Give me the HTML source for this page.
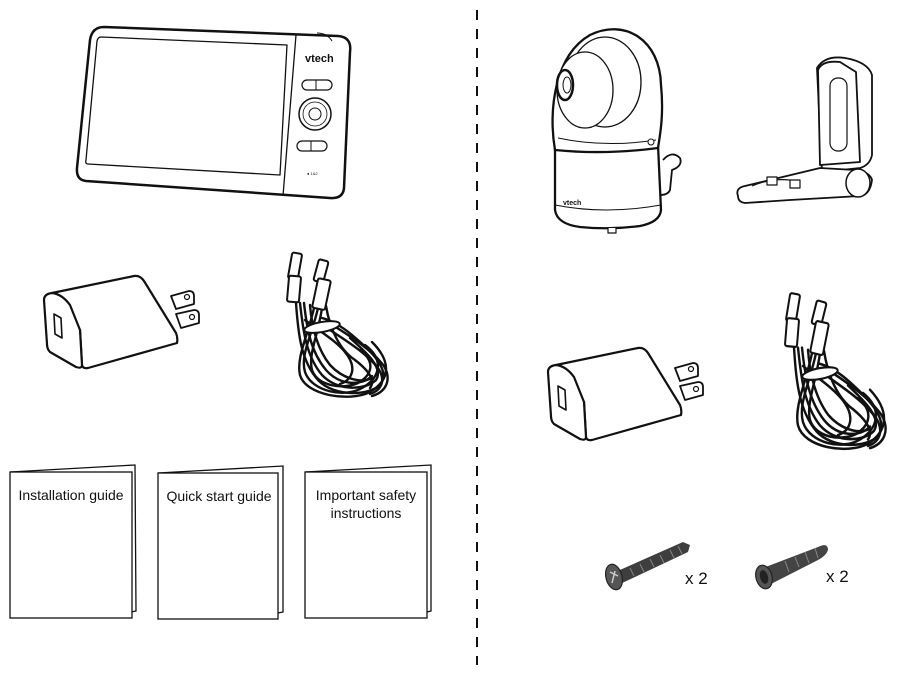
<!DOCTYPE html>
<html><head><meta charset="utf-8"><style>
html,body{margin:0;padding:0;background:#fff;}
svg{display:block}
text{font-family:"Liberation Sans",sans-serif;fill:#111}
</style></head><body>
<svg width="904" height="673" viewBox="0 0 904 673" xmlns="http://www.w3.org/2000/svg">
<defs>
<g id="adapter" fill="#fff" stroke="#111" stroke-width="2.2" stroke-linejoin="round">
  <path d="M171,296 l18,-5 q5,0 5,5 l0,8 l-18,5z" stroke-width="1.8"/>
  <path d="M176,314 l18,-4 q5,0 5,5 l0,8 l-18,5z" stroke-width="1.8"/>
  <path d="M52,293 L134,276 Q140,275 144,281 L176,333 Q178,338 177,343 L88,368 Q83,369 82,365 L80,330 Z"/>
  <path d="M44,300 Q44,294 52,293 Q62,294 70,305 L80,330 L82,365 Q82,369 76,367 L50,352 Q47,349 47,344 Z"/>
  <path d="M54,314 l7,4 l1,20 l-7,-4z" stroke-width="1.6"/>
  <circle cx="187" cy="297" r="2.5" stroke-width="1.2"/>
  <circle cx="192" cy="317" r="2.5" stroke-width="1.2"/>
</g>
<g id="cable" fill="none" stroke="#111" stroke-width="2.4" stroke-linecap="round">
  <path d="M296,303 C298,330 300,360 318,380 C335,398 370,395 380,385 C392,370 370,350 352,335 C340,325 330,320 322,318"/>
  <path d="M300,303 C303,330 306,356 322,375 C338,392 366,390 376,380 C384,368 366,352 350,338"/>
  <path d="M304,303 C307,330 311,352 326,370 C340,386 362,386 372,376"/>
  <path d="M318,308 C312,335 300,355 305,372 C312,392 345,398 362,388 C380,378 385,360 365,345"/>
  <path d="M322,308 C318,335 308,355 312,370 C318,386 342,390 358,383 C372,375 376,362 360,350"/>
  <path d="M314,308 C308,335 296,358 300,375 C306,396 350,402 370,392 C390,380 392,362 372,342"/>
  <path d="M326,306 C330,330 340,350 355,360 C368,370 376,380 370,388"/>
  <path d="M310,305 C312,330 318,350 330,365 C342,378 360,384 372,378"/>
  <path d="M305,320 C318,330 335,340 345,352 C358,368 352,380 340,384"/>
  <path d="M330,330 C345,340 365,352 378,368 C386,380 382,390 370,394"/>
  <path d="M334,326 C350,336 372,350 384,366 C392,380 386,392 372,396"/>
  <g fill="#fff" stroke-width="2">
  <rect x="290" y="253" width="10" height="26" rx="2" transform="rotate(10 295 266)"/>
  <rect x="288" y="276" width="12" height="26" rx="2" transform="rotate(5 294 289)"/>
  <rect x="316" y="260" width="10" height="22" rx="2" transform="rotate(15 321 271)"/>
  <rect x="315" y="279" width="13" height="30" rx="2" transform="rotate(12 321 294)"/>
  <ellipse cx="322" cy="327" rx="18" ry="5" transform="rotate(-10 322 327)"/>
  </g>
</g>
</defs>

<line x1="477" y1="10" x2="477" y2="665" stroke="#111" stroke-width="2" stroke-dasharray="10,9"/>

<!-- Monitor -->
<g fill="#fff" stroke="#111" stroke-linejoin="round">
  <path d="M104,27 L338,36 Q352,37 350,52 L344,188 Q343,199 330,198 L86,181 Q76,180 77,168 L90,40 Q92,27 104,27 Z" stroke-width="2.5"/>
  <path d="M101,37 L287,45 L280,175 L88,164 Q85,164 86,160 L97,41 Q98,37 101,37 Z" stroke-width="1.3"/>
  <line x1="296" y1="35" x2="283" y2="196" stroke-width="1.3"/>
  <path d="M317,33 q10,0 15,8" fill="none" stroke-width="1"/>
  <rect x="302" y="80" width="30" height="10" rx="5" stroke-width="1.2"/>
  <line x1="316" y1="80" x2="316" y2="90" stroke-width="1"/>
  <circle cx="315" cy="114" r="16" stroke-width="1.5"/>
  <circle cx="315" cy="114" r="12" stroke-width="0.8"/>
  <circle cx="315" cy="114" r="6" stroke-width="1"/>
  <rect x="297" y="141" width="30" height="10" rx="5" stroke-width="1.2"/>
  <line x1="311" y1="141" x2="311" y2="151" stroke-width="1"/>
</g>
<text x="305" y="62" font-size="11" font-weight="bold">vtech</text>
<text x="307" y="175" font-size="4">● 1&amp;2</text>

<use href="#adapter"/>
<use href="#cable"/>
<use href="#adapter" transform="translate(504,72)"/>
<use href="#cable" transform="translate(498,42) scale(1,1.08) translate(0,-20)"/>

<!-- Booklets -->
<g fill="#fff" stroke="#111" stroke-width="1.3">
  <path d="M10,472 L135,465 L136,611 L131,612"/>
  <rect x="10" y="472" width="122" height="146"/>
  <path d="M158,473 L283,466 L283,612 L278,613"/>
  <rect x="158" y="473" width="120" height="146"/>
  <path d="M305,472 L431,465 L431,611 L427,612"/>
  <rect x="305" y="472" width="122" height="146"/>
</g>
<g font-size="14" text-anchor="middle">
  <text x="71" y="500">Installation guide</text>
  <text x="219" y="501">Quick start  guide</text>
  <text x="366" y="500">Important safety</text>
  <text x="366" y="518">instructions</text>
</g>

<!-- Camera -->
<g fill="#fff" stroke="#111" stroke-linejoin="round">
  <path d="M555,145 L555,210 Q557,224 580,227 Q610,230 640,226 Q660,222 661,210 L658,145 Z" stroke-width="2.3"/>
  <path d="M555,205 Q605,215 661,205" fill="none" stroke-width="1"/>
  <path d="M555,150 C548,110 555,55 590,35 C625,18 660,40 661,85 C664,115 660,135 658,148 Q605,155 555,150 Z" stroke-width="2.3"/>
  <path d="M558,138 Q605,148 656,140" fill="none" stroke-width="1"/>
  <ellipse cx="605" cy="82" rx="36" ry="45" stroke-width="1.3"/>
  <ellipse cx="585" cy="90" rx="28" ry="38" stroke-width="1.3"/>
  <ellipse cx="565" cy="85" rx="8" ry="15" stroke-width="2.5"/>
  <ellipse cx="567" cy="85" rx="4" ry="8" stroke-width="1"/>
  <circle cx="651" cy="142" r="3" stroke-width="1"/>
  <path d="M663,160 Q672,150 680,158 Q683,166 672,170 L670,190 Q668,195 660,195" fill="none" stroke-width="1.8"/>
  <path d="M608,228 l0,5 l8,0 l0,-5" stroke-width="1.2"/>
</g>
<text x="563" y="205" font-size="7" font-weight="bold">vtech</text>

<!-- Bracket -->
<g fill="#fff" stroke="#111" stroke-linejoin="round">
  <path d="M817,68 Q825,55 845,58 Q868,62 872,75 L872,155 Q870,165 860,168 L822,172 Z" stroke-width="1.8"/>
  <path d="M818,70 Q822,60 840,62 L856,72 L860,162 L820,165 Z" stroke-width="1.8"/>
  <rect x="830" y="78" width="17" height="73" rx="8" stroke-width="1.2"/>
  <path d="M738,196 Q735,188 745,186 L820,168 L855,170 Q870,172 872,180 Q870,195 860,196 L790,200 L745,203 Q738,202 738,196 Z" stroke-width="1.8"/>
  <ellipse cx="858" cy="183" rx="12" ry="14" stroke-width="1.5"/>
  <path d="M752,186 Q770,178 790,180" fill="none" stroke-width="1.2"/>
  <rect x="767" y="177" width="10" height="8" stroke-width="1.2"/>
  <rect x="790" y="180" width="10" height="8" stroke-width="1.2"/>
</g>

<!-- Screws -->
<g>
  <path d="M613,573 L683,542 L690,545 L688,552 L620,584 Z" fill="#3e3e3e"/>
  <g stroke="#888" stroke-width="1">
    <line x1="630" y1="568" x2="634" y2="576"/><line x1="640" y1="564" x2="644" y2="572"/>
    <line x1="650" y1="559" x2="654" y2="567"/><line x1="660" y1="555" x2="664" y2="563"/>
    <line x1="670" y1="550" x2="674" y2="558"/><line x1="678" y1="546" x2="682" y2="554"/>
  </g>
  <ellipse cx="614" cy="577" rx="8" ry="13" fill="#555" stroke="#222" stroke-width="1.2" transform="rotate(-15 614 577)"/>
  <path d="M610,572 l8,4 M612,583 l3,-12" stroke="#ccc" stroke-width="1.5"/>
  <path d="M763,568 L818,547 Q828,542 828,550 Q826,556 818,560 L769,585 Z" fill="#444"/>
  <g stroke="#888" stroke-width="1">
    <line x1="785" y1="561" x2="789" y2="572"/><line x1="795" y1="557" x2="799" y2="567"/>
    <line x1="805" y1="552" x2="809" y2="563"/><line x1="815" y1="548" x2="818" y2="558"/>
  </g>
  <ellipse cx="764" cy="577" rx="8" ry="12" fill="#555" stroke="#222" stroke-width="1.2" transform="rotate(-15 764 577)"/>
  <ellipse cx="764" cy="577" rx="4" ry="7" fill="#222" transform="rotate(-15 764 577)"/>
</g>
<text x="685" y="584" font-size="17">x 2</text>
<text x="826" y="582" font-size="17">x 2</text>
</svg>
</body></html>
